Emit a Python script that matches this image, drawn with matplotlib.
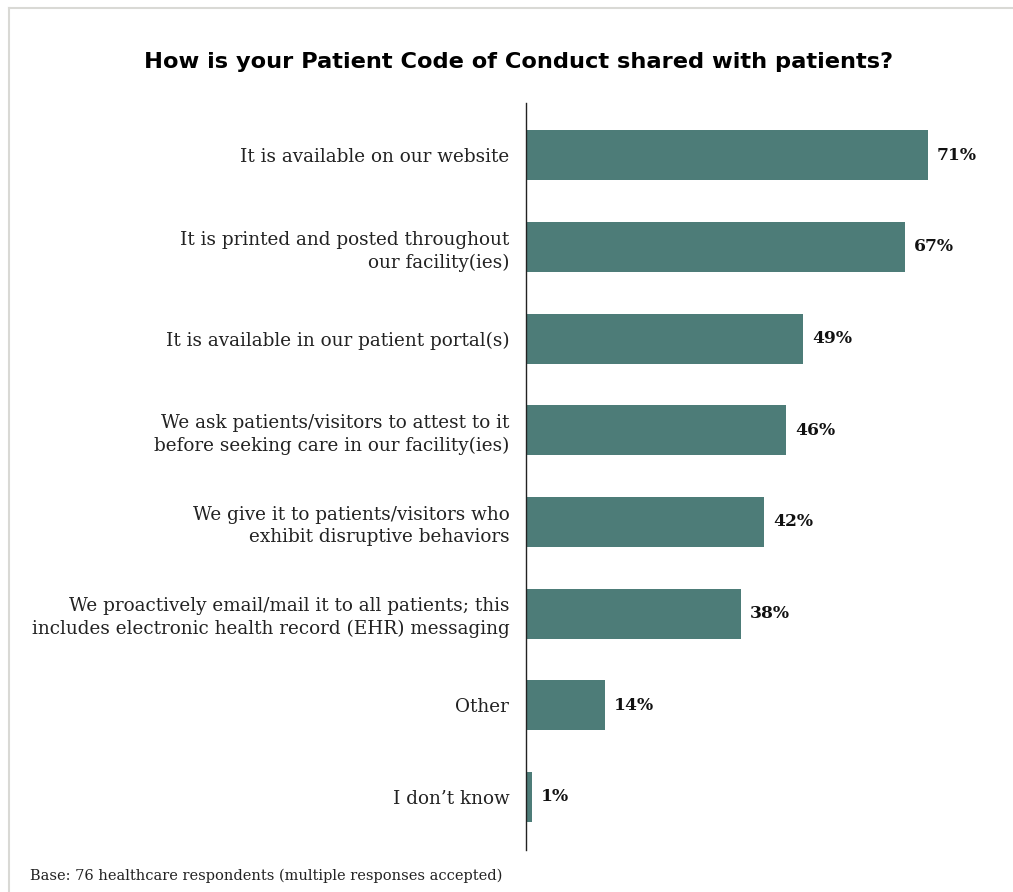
import matplotlib.pyplot as plt
from matplotlib.lines import Line2D

categories = [
    "It is available on our website",
    "It is printed and posted throughout\nour facility(ies)",
    "It is available in our patient portal(s)",
    "We ask patients/visitors to attest to it\nbefore seeking care in our facility(ies)",
    "We give it to patients/visitors who\nexhibit disruptive behaviors",
    "We proactively email/mail it to all patients; this\nincludes electronic health record (EHR) messaging",
    "Other",
    "I don\u2019t know",
]
values = [71, 67, 49, 46, 42, 38, 14, 1]

title = "How is your Patient Code of Conduct shared with patients?"
footnote = "Base: 76 healthcare respondents (multiple responses accepted)"

bar_color = "#4d7c78"
text_color = "#222222"

W, H = 1013, 892
fig = plt.figure(figsize=(W / 100, H / 100), dpi=100)

# axes placed in pixel terms: left edge at the y axis line
ax_left, ax_right, ax_top, ax_bottom = 526, 1000, 103, 850
ax = fig.add_axes([ax_left / W, 1 - ax_bottom / H,
                   (ax_right - ax_left) / W, (ax_bottom - ax_top) / H])

y = list(range(len(values)))
ax.barh(y, values, height=0.545, color=bar_color)
ax.set_ylim(len(values) - 1 + 0.58, -0.57)
ax.set_xlim(0, (ax_right - ax_left) / 5.66)

for yi, v in zip(y, values):
    ax.text(v + 1.6, yi, f"{v}%", va="center", ha="left",
            family="DejaVu Serif", fontweight="bold", fontsize=12.3,
            color="#111111")

ax.set_yticks(y)
ax.set_yticklabels(categories, family="DejaVu Serif", fontsize=13.2,
                   color=text_color, linespacing=1.33)
ax.tick_params(axis="y", length=0, pad=12)
ax.set_xticks([])
for s in ["top", "right", "bottom"]:
    ax.spines[s].set_visible(False)
ax.spines["left"].set_color("#222222")
ax.spines["left"].set_linewidth(1.0)

fig.text(519 / W, 1 - 62 / H, title, ha="center", va="center",
         family="DejaVu Sans", fontweight="bold", fontsize=16.2, color="#000000")
fig.text(30 / W, 1 - 876 / H, footnote, ha="left", va="center",
         family="DejaVu Serif", fontsize=10.5, color=text_color)

# thin frame on the top and left edges
frame = "#d9d9d5"
fig.add_artist(Line2D([9 / W, 1], [1 - 8 / H, 1 - 8 / H], color=frame, lw=1.5,
                      transform=fig.transFigure))
fig.add_artist(Line2D([9 / W, 9 / W], [1 - 8 / H, 0], color=frame, lw=1.5,
                      transform=fig.transFigure))

fig.savefig("out.png", dpi=100, facecolor="white")
